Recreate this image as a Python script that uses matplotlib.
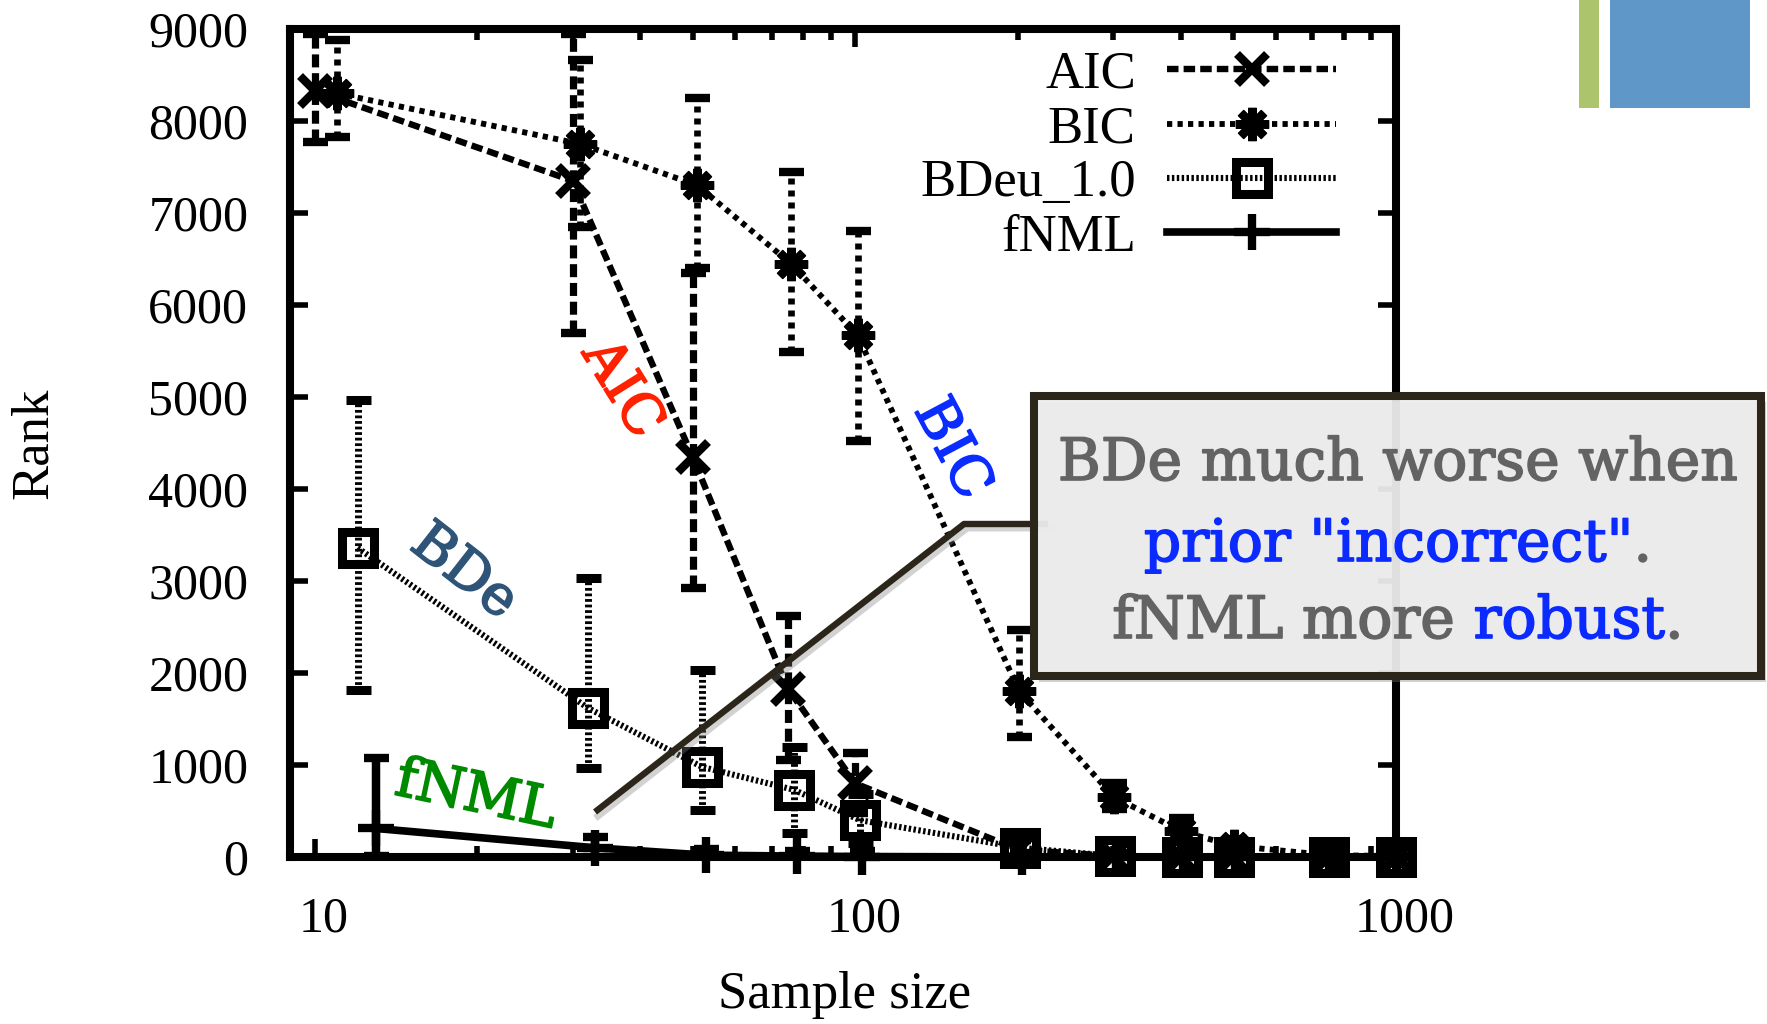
import numpy as np
import matplotlib.pyplot as plt
import matplotlib.patheffects as pe
import matplotlib.transforms as mtransforms
from matplotlib.lines import Line2D
from matplotlib.patches import Rectangle

# figure size in pixels (saved at dpi 100)
W, H = 1767, 1024

# sample sizes on the x axis (each method is drawn slightly shifted to the right)
sizes = [10, 30, 50, 75, 100, 200, 300, 400, 500, 750, 1000]

# mean rank and error bar ends
aic    = [8330, 7350, 4350, 1830, 800, 80, 10, 5, 0, 0, 0]
aic_lo = [7770, 5700, 2920, 1050, 480, 0, 0, 0, 0, 0, 0]
aic_hi = [8950, 8950, 6350, 2620, 1130, 180, 40, 20, 10, 10, 10]

bic    = [8300, 7750, 7300, 6450, 5670, 1800, 650, 280, 120, 20, 10]
bic_lo = [7830, 6850, 6400, 5490, 4520, 1300, 520, 160, 50, 0, 0]
bic_hi = [8880, 8660, 8250, 7450, 6800, 2470, 800, 420, 200, 60, 30]

bdeu    = [3360, 1620, 980, 730, 400, 100, 10, 5, 0, 0, 0]
bdeu_lo = [1820, 970, 510, 260, 150, 0, 0, 0, 0, 0, 0]
bdeu_hi = [4970, 3030, 2030, 1200, 680, 220, 40, 20, 10, 10, 10]

fnml    = [310, 100, 20, 10, 5, 0, 0, 0, 0, 0, 0]
fnml_lo = [10, 0, 0, 0, 0, 0, 0, 0, 0, 0, 0]
fnml_hi = [1080, 220, 90, 70, 60, 40, 30, 30, 30, 30, 30]

yticks = [0, 1000, 2000, 3000, 4000, 5000, 6000, 7000, 8000, 9000]
xticks = [10, 100, 1000]
xticklabels = ['10', '100', '1000']


def px(x, y):
    # pixel position (from top-left) -> figure fraction
    return x / W, 1 - y / H


serif = 'Liberation Serif'
slab = 'DejaVu Serif'

fig = plt.figure(figsize=(W / 100, H / 100), dpi=100)
ax = fig.add_axes([290 / W, 1 - 857 / H, (1396 - 290) / W, (857 - 29) / H])

styles = [
    ('AIC', aic, aic_lo, aic_hi, 0, dict(ls=(0, (1.8, 0.8)), lw=4.6, marker='x', ms=22, mew=6, mfc='none')),
    ('BIC', bic, bic_lo, bic_hi, 1, dict(ls=(0, (0.9, 0.9)), lw=4.2, marker=(8, 2, 0), ms=24, mew=6, mfc='none')),
    ('BDeu_1.0', bdeu, bdeu_lo, bdeu_hi, 2, dict(ls=(0, (0.4, 0.4)), lw=4.4, marker='s', ms=23, mew=6.5, mfc='none')),
    ('fNML', fnml, fnml_lo, fnml_hi, 3, dict(ls='-', lw=5.5, marker='+', ms=26, mew=6, mfc='none')),
]

handles = []
for name, y, lo, hi, shift, st in styles:
    x = np.array(sizes) + shift
    y = np.array(y)
    yerr = [y - np.array(lo), np.array(hi) - y]
    eb = ax.errorbar(x, y, yerr=yerr, color='black', capsize=9, capthick=4,
                     elinewidth=st['lw'] + 0.6, **st)
    eb[0].set_clip_on(False)
    eb[2][0].set_linestyle(st['ls'])
    handles.append(Line2D([], [], color='black', label=name, **st))

ax.set_xscale('log')
ax.set_xlim(9, 1000)
ax.set_ylim(0, 9000)
ax.set_xticks(xticks)
ax.set_xticklabels(xticklabels)
ax.set_yticks(yticks)
ax.tick_params(which='both', direction='in', top=True, right=True, width=4)
ax.tick_params(which='major', length=13, labelsize=36, pad=28)
ax.tick_params(which='minor', length=8)
ax.tick_params(axis='y', pad=30)
shift_right = mtransforms.ScaledTranslation(9 / 100, 0, fig.dpi_scale_trans)
for lab in ax.get_xticklabels():
    lab.set_fontfamily(serif)
    lab.set_transform(lab.get_transform() + shift_right)
for lab in ax.get_yticklabels():
    lab.set_fontfamily(serif)
for sp in ax.spines.values():
    sp.set_linewidth(5.8)

leg = ax.legend(handles=handles, loc='upper right', bbox_to_anchor=(0.989, 1.031),
                frameon=False, markerfirst=False, handlelength=3.2, handletextpad=0.6,
                labelspacing=0.12, prop={'family': serif, 'size': 38})

fig.text(*px(34, 443), 'Rank', rotation=90, ha='center', va='center', family=serif, fontsize=38)
fig.text(*px(845, 995), 'Sample size', ha='center', va='center', family=serif, fontsize=38)

# curve labels
labels = [
    ('AIC', '#ff2200', -58, 622, 389),
    ('BIC', '#0a2cff', -62, 952, 449),
    ('BDe', '#2e5478', -38, 464, 572),
    ('fNML', '#008a00', -12, 476, 796),
]
for s, c, rot, lxp, lyp in labels:
    fig.text(*px(lxp, lyp), s, color=c, rotation=rot, rotation_mode='anchor',
             ha='center', va='center', family=slab, fontsize=40,
             path_effects=[pe.withStroke(linewidth=1.3, foreground=c)])

# callout line with a soft shadow
lx = [595, 964, 1048]
ly = [812, 524, 524]
fig.add_artist(Line2D([px(a + 3, b + 4)[0] for a, b in zip(lx, ly)],
                      [px(a + 3, b + 4)[1] for a, b in zip(lx, ly)],
                      transform=fig.transFigure, color='grey', alpha=0.35, lw=5, zorder=9))
fig.add_artist(Line2D([px(a, b)[0] for a, b in zip(lx, ly)],
                      [px(a, b)[1] for a, b in zip(lx, ly)],
                      transform=fig.transFigure, color='#2b2619', lw=4.6, zorder=10,
                      solid_capstyle='butt'))

# callout box
bx0, by0, bx1, by1 = 1034, 396, 1761, 676
fig.add_artist(Rectangle(px(bx0 + 5, by1 + 6), (bx1 - bx0) / W, (by1 - by0) / H,
                         transform=fig.transFigure, fc='grey', ec='none', alpha=0.35, zorder=10))
fig.add_artist(Rectangle(px(bx0, by1), (bx1 - bx0) / W, (by1 - by0) / H,
                         transform=fig.transFigure, fc=(0.933, 0.933, 0.933, 0.93),
                         ec='#2b2619', lw=5.8, zorder=11))

grey, blue = '#636363', '#0a2aff'
box_lines = [
    (464, [('BDe much worse when', grey)]),
    (545, [('prior "incorrect"', blue), ('.', grey)]),
    (622, [('fNML more ', grey), ('robust', blue), ('.', grey)]),
]
renderer = fig.canvas.get_renderer()


def text_width(s):
    t = fig.text(0, 0, s + '|', family=slab, fontsize=42)
    bar = fig.text(0, 0, '|', family=slab, fontsize=42)
    w = t.get_window_extent(renderer).width - bar.get_window_extent(renderer).width
    t.remove()
    bar.remove()
    return w


for yline, pieces in box_lines:
    total = text_width(''.join(s for s, c in pieces))
    x0 = 1398 - total / 2
    done = ''
    for s, c in pieces:
        xs = x0 + (text_width(done) if done else 0)
        fig.text(*px(xs, yline), s, color=c, ha='left', va='center', family=slab,
                 fontsize=42, zorder=12,
                 path_effects=[pe.withStroke(linewidth=1.2, foreground=c)])
        done += s

# slide decoration, top right
fig.add_artist(Rectangle(px(1579, 108), 20 / W, 108 / H, transform=fig.transFigure,
                         fc='#acc46c', ec='none'))
fig.add_artist(Rectangle(px(1610, 108), 140 / W, 108 / H, transform=fig.transFigure,
                         fc='#5f97c9', ec='none'))

fig.savefig('out.png', dpi=100)
